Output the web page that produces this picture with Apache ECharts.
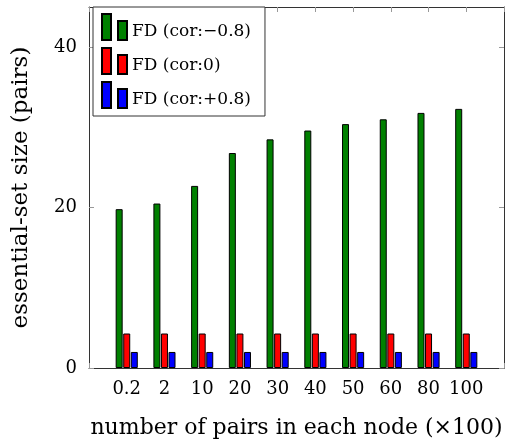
<!DOCTYPE html>
<html>
<head>
<meta charset="utf-8">
<script src="https://cdn.jsdelivr.net/npm/echarts@6/dist/echarts.min.js"></script>
<style>html,body{margin:0;padding:0;background:#fff}#c{width:510px;height:444px}</style>
</head>
<body>
<div id="c"></div>
<script>
const categories = ['0.2', '2', '10', '20', '30', '40', '50', '60', '80', '100'];
const seriesNames = ['FD (cor:\u22120.8)', 'FD (cor:0)', 'FD (cor:+0.8)'];
const corNeg = [19.8, 20.5, 22.7, 26.8, 28.5, 29.6, 30.4, 31.0, 31.8, 32.3];
const corZero = [4.3, 4.3, 4.3, 4.3, 4.3, 4.3, 4.3, 4.3, 4.3, 4.3];
const corPos = [2.0, 2.0, 2.0, 2.0, 2.0, 2.0, 2.0, 2.0, 2.0, 2.0];
const yTicks = [0, 20, 40];
const colors = ['#008000', '#ff0000', '#0000ff'];

const FONT = 'DejaVu Serif';
const chart = echarts.init(document.getElementById('c'));
const frame = '#333';
const tickCol = '#999';
function mk(name, vals, col) {
  return {
    name: name, type: 'bar', barWidth: 7, barGap: '8%',
    data: categories.map((c, i) => [i, vals[i]]),
    itemStyle: { color: col, borderColor: '#000', borderWidth: 1 }
  };
}
chart.setOption({
  animation: false,
  grid: { left: 89, right: 6, top: 7, bottom: 75 },
  xAxis: [{
    type: 'value', min: -1, max: 10, interval: 1, position: 'bottom',
    name: 'number of pairs in each node (\u00d7100)', nameLocation: 'middle', nameGap: 49,
    nameTextStyle: { fontFamily: FONT, fontSize: 22, color: '#000' },
    axisLine: { show: true, onZero: false, lineStyle: { color: frame, width: 1 } },
    axisTick: { show: true, inside: true, length: 5, lineStyle: { color: tickCol } },
    axisLabel: { fontFamily: FONT, fontSize: 18, color: '#000', margin: 12,
      formatter: v => (v >= 0 && v < categories.length && Number.isInteger(v)) ? categories[v] : '' },
    splitLine: { show: false }
  }, {
    type: 'value', min: -1, max: 10, interval: 1, position: 'top',
    axisLine: { show: true, onZero: false, lineStyle: { color: frame, width: 1 } },
    axisTick: { show: true, inside: true, length: 5, lineStyle: { color: tickCol } },
    axisLabel: { show: false }, splitLine: { show: false }
  }],
  yAxis: [{
    type: 'value', min: 0, max: 45, interval: 20, position: 'left',
    name: 'essential-set size (pairs)', nameLocation: 'middle', nameGap: 56, nameRotate: 90,
    nameTextStyle: { fontFamily: FONT, fontSize: 23, color: '#000' },
    axisLine: { show: true, onZero: false, lineStyle: { color: frame, width: 1 } },
    axisTick: { show: true, inside: true, length: 5, lineStyle: { color: tickCol },
      customValues: yTicks },
    axisLabel: { fontFamily: FONT, fontSize: 18, color: '#000', margin: 12,
      customValues: yTicks, formatter: v => yTicks.includes(v) ? String(v) : '' },
    splitLine: { show: false }
  }, {
    type: 'value', min: 0, max: 45, interval: 20, position: 'right',
    axisLine: { show: true, onZero: false, lineStyle: { color: frame, width: 1 } },
    axisTick: { show: true, inside: true, length: 5, lineStyle: { color: tickCol }, customValues: yTicks },
    axisLabel: { show: false }, splitLine: { show: false }
  }],
  legend: {
    orient: 'vertical', left: 93, top: 7,
    backgroundColor: '#fff', borderColor: '#333', borderWidth: 1,
    padding: [6, 14, 7, 8], itemGap: 6, itemWidth: 25, itemHeight: 26,
    icon: 'path://M0,0h9v26h-9z M16,7h9v19h-9z',
    formatter: n => '{t|' + n + '}',
    textStyle: { fontFamily: FONT, fontSize: 17, color: '#000',
      rich: { t: { fontFamily: FONT, fontSize: 17, color: '#000', lineHeight: 16, padding: [10, 0, 0, 0] } } },
    data: seriesNames
  },
  series: [mk(seriesNames[0], corNeg, colors[0]), mk(seriesNames[1], corZero, colors[1]), mk(seriesNames[2], corPos, colors[2])]
});
</script>
</body>
</html>
